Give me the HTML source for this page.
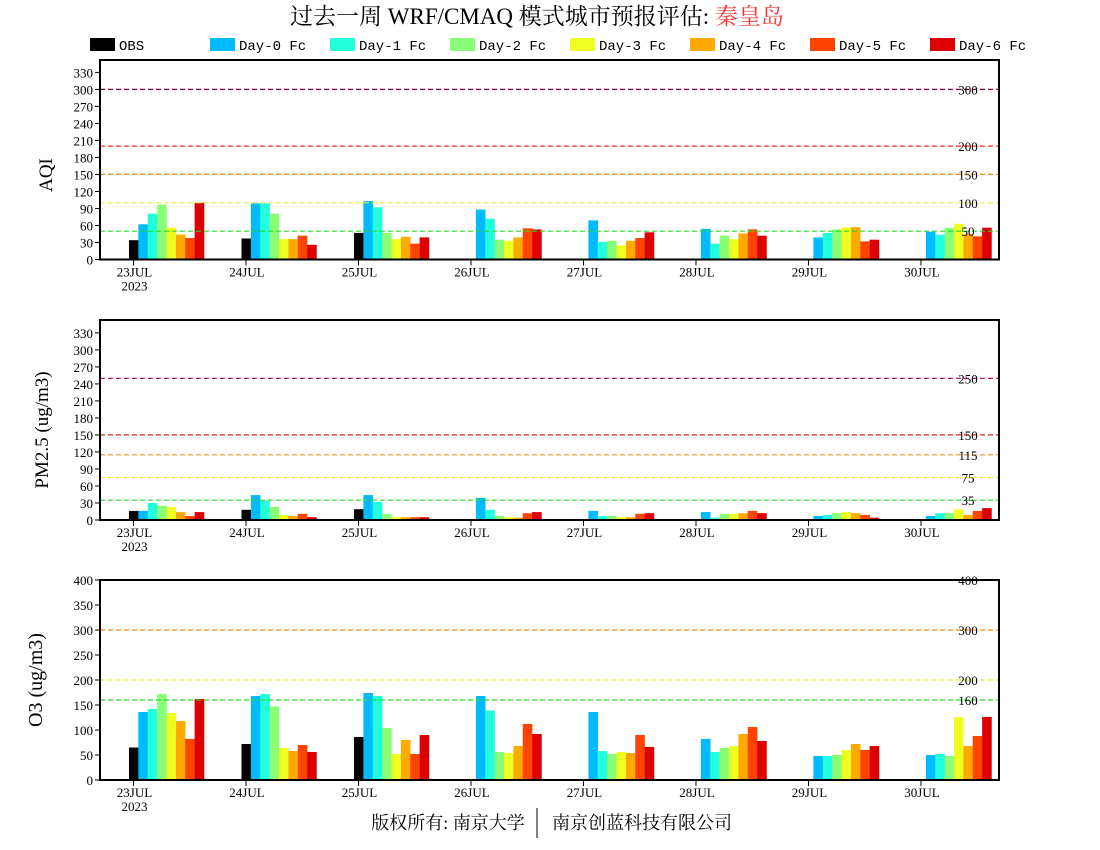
<!DOCTYPE html>
<html><head><meta charset="utf-8"><style>
html,body{margin:0;padding:0;background:#fff;}
svg{display:block;}
text{font-family:"Liberation Serif","Noto Serif CJK SC",serif;}
</style></head><body>
<svg id="s" width="1100" height="850" xmlns="http://www.w3.org/2000/svg"></svg>
<script>
var s=document.getElementById('s'),h='';
var C=['#000000','#00BBFF','#22FFDD','#88FF77','#EEFF22','#FFAA00','#FF4400','#DD0000'];
var names=['OBS','Day-0 Fc','Day-1 Fc','Day-2 Fc','Day-3 Fc','Day-4 Fc','Day-5 Fc','Day-6 Fc'];
h+='<text x="537" y="24" font-size="23" text-anchor="middle">过去一周 WRF/CMAQ 模式城市预报评估: <tspan fill="#FF3333">秦皇岛</tspan></text>';
for(var i=0;i<8;i++){var x=90+120*i;h+='<rect x="'+x+'" y="38" width="25" height="13" fill="'+C[i]+'"/><text x="'+(x+29)+'" y="50" font-size="14" style="font-family:\'Liberation Mono\',monospace">'+names[i]+'</text>';}
var dates=['23JUL','24JUL','25JUL','26JUL','27JUL','28JUL','29JUL','30JUL'];
var A=[[34,62,81,97,56,44,38,100],[37,99,99,81,36,36,42,26],[47,103,92,47,36,40,28,39],[0,88,72,35,33,39,55,53],[0,69,31,33,25,33,38,48],[0,54,28,42,36,46,53,42],[0,39,47,53,57,57,32,35],[0,49,44,56,63,45,41,56]];
var P=[[16,16,30,25,23,14,7,14],[18,44,34,23,9,7,11,5],[19,44,32,11,5,5,5,5],[0,39,18,7,5,4,12,14],[0,16,7,7,5,5,11,12],[0,14,4,11,11,12,16,12],[0,7,9,12,14,12,9,4],[0,7,12,12,19,9,16,21]];
var O=[[65,136,142,172,134,118,82,162],[72,168,172,147,64,58,70,56],[86,174,168,104,52,80,52,90],[0,168,139,56,54,68,112,92],[0,136,58,52,56,54,90,66],[0,82,56,64,68,92,106,78],[0,48,48,50,60,72,60,68],[0,50,52,48,126,68,88,126]];
function panel(top,bot,k,data,ticks,lines,lab,labx,laby,big){
  var L=100,R=999;
  for(var d=0;d<8;d++){var tx=133.5+112.5*d;
    for(var j=0;j<8;j++){var v=data[d][j];if(!v)continue;var bx=tx-4.5+j*9.375;
      h+='<rect x="'+bx.toFixed(2)+'" y="'+(bot-v*k).toFixed(1)+'" width="9.6" height="'+(v*k).toFixed(1)+'" fill="'+C[j]+'"/>';}
    h+='<line x1="'+tx+'" y1="'+bot+'" x2="'+tx+'" y2="'+(bot+6)+'" stroke="#000"/>';
    h+='<text x="'+(tx+1)+'" y="'+(bot+17)+'" font-size="13" text-anchor="middle">'+dates[d]+'</text>';
    if(d==0)h+='<text x="'+(tx+1)+'" y="'+(bot+31)+'" font-size="13" text-anchor="middle">2023</text>';}
  for(var i=0;i<lines.length;i++){var y=(bot-lines[i][0]*k).toFixed(1);
    h+='<line x1="'+L+'" y1="'+y+'" x2="'+R+'" y2="'+y+'" stroke="'+lines[i][1]+'" stroke-dasharray="5,3" stroke-width="1.2"/>';
    h+='<text x="968" y="'+(+y+5)+'" font-size="13" text-anchor="middle">'+lines[i][0]+'</text>';}
  for(var i=0;i<ticks.length;i++){var y=bot-ticks[i]*k;
    h+='<line x1="'+(L-5)+'" y1="'+y+'" x2="'+L+'" y2="'+y+'" stroke="#000"/>';
    h+='<text x="93" y="'+(y+5)+'" font-size="13" text-anchor="end">'+ticks[i]+'</text>';}
  h+='<rect x="'+L+'" y="'+top+'" width="'+(R-L)+'" height="'+(bot-top)+'" fill="none" stroke="#000" stroke-width="2"/>';
  h+='<text transform="translate('+labx+','+laby+') rotate(-90)" font-size="'+big+'" text-anchor="middle">'+lab+'</text>';
}
var t1=[];for(var v=0;v<=330;v+=30)t1.push(v);
panel(60,259.5,0.567,A,t1,[[300,'#800040'],[200,'#FF2222'],[150,'#EE8822'],[100,'#EEEE33'],[50,'#22DD22']],'AQI',52,175,19);
panel(320,520,0.567,P,t1,[[250,'#B0006F'],[150,'#DD2222'],[115,'#EE8822'],[75,'#EEEE22'],[35,'#22DD22']],'PM2.5 (ug/m3)',48,430,19);
var t3=[];for(var v=0;v<=400;v+=50)t3.push(v);
panel(580,780,0.5,O,t3,[[400,'#FF0000'],[300,'#FF8800'],[200,'#EEEE22'],[160,'#22DD22']],'O3 (ug/m3)',42,680,20);
h+='<text x="448" y="829" font-size="18" text-anchor="middle">版权所有: 南京大学</text>';
h+='<line x1="537" y1="808" x2="537" y2="838" stroke="#000"/>';
h+='<text x="642" y="829" font-size="18" text-anchor="middle">南京创蓝科技有限公司</text>';
s.innerHTML=h;
</script>
</body></html>
